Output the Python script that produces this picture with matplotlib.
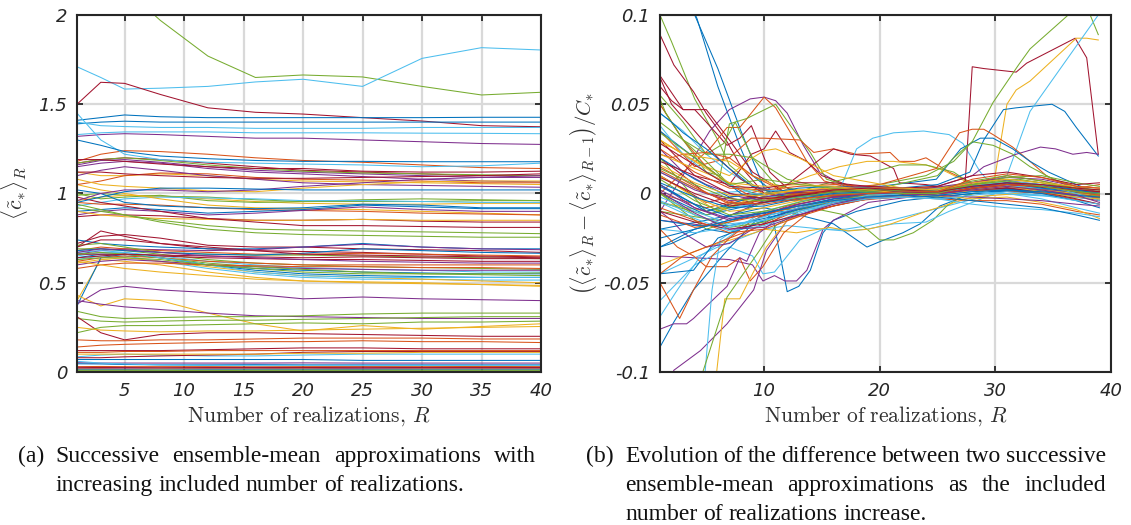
import matplotlib
matplotlib.use("Agg")
import matplotlib.pyplot as plt

plt.rcParams["mathtext.fontset"] = "cm"

# ---------------------------------------------------------------- data
# Panel (a): running ensemble mean <c~*>_R, sampled at these R values
R_KNOTS_A = [1, 3, 5, 8, 12, 16, 20, 25, 30, 35, 40]

upper_a = [
    [2.45, 2.28, 2.15, 1.97, 1.77, 1.65, 1.664, 1.653, 1.60, 1.552, 1.567],
    [1.71, 1.65, 1.585, 1.59, 1.60, 1.625, 1.64, 1.60, 1.757, 1.817, 1.804],
    [1.50, 1.623, 1.617, 1.555, 1.48, 1.455, 1.445, 1.425, 1.406, 1.38, 1.374],
    [1.41, 1.425, 1.44, 1.43, 1.425, 1.425, 1.425, 1.425, 1.425, 1.427, 1.427],
    [1.39, 1.40, 1.405, 1.40, 1.40, 1.40, 1.40, 1.40, 1.40, 1.40, 1.40],
    [1.40, 1.38, 1.375, 1.37, 1.37, 1.365, 1.365, 1.365, 1.37, 1.37, 1.37],
    [1.33, 1.34, 1.345, 1.345, 1.345, 1.34, 1.34, 1.34, 1.338, 1.337, 1.335],
    [1.32, 1.33, 1.335, 1.33, 1.32, 1.31, 1.31, 1.30, 1.29, 1.28, 1.275],
    [1.45, 1.30, 1.22, 1.19, 1.175, 1.17, 1.165, 1.16, 1.15, 1.155, 1.17],
    [1.30, 1.27, 1.235, 1.21, 1.195, 1.185, 1.18, 1.18, 1.178, 1.178, 1.178],
]
upper_a_colors = "gcrbbccpcb"

band_a_high = [
    [1.18, 1.22, 1.24, 1.235, 1.22, 1.20, 1.185, 1.175, 1.16, 1.145, 1.14],
    [1.17, 1.19, 1.20, 1.19, 1.17, 1.15, 1.13, 1.12, 1.11, 1.10, 1.10],
    [1.16, 1.185, 1.19, 1.175, 1.15, 1.13, 1.12, 1.11, 1.10, 1.09, 1.09],
    [1.17, 1.19, 1.20, 1.185, 1.16, 1.14, 1.125, 1.115, 1.11, 1.105, 1.10],
    [1.15, 1.17, 1.18, 1.17, 1.14, 1.12, 1.11, 1.095, 1.08, 1.07, 1.065],
    [1.19, 1.19, 1.18, 1.165, 1.15, 1.14, 1.14, 1.125, 1.12, 1.12, 1.125],
    [1.12, 1.10, 1.10, 1.11, 1.10, 1.08, 1.07, 1.065, 1.06, 1.055, 1.05],
    [1.05, 1.07, 1.10, 1.115, 1.11, 1.09, 1.08, 1.075, 1.07, 1.06, 1.06],
    [1.10, 1.13, 1.15, 1.13, 1.10, 1.08, 1.06, 1.05, 1.045, 1.04, 1.035],
    [1.08, 1.05, 1.04, 1.03, 1.015, 1.01, 1.03, 1.05, 1.065, 1.07, 1.07],
    [0.96, 1.00, 1.02, 1.02, 1.01, 1.02, 1.04, 1.06, 1.08, 1.09, 1.10],
    [0.95, 0.98, 1.01, 1.03, 1.03, 1.025, 1.02, 1.02, 1.02, 1.02, 1.02],
    [1.12, 1.12, 1.11, 1.10, 1.09, 1.085, 1.085, 1.09, 1.095, 1.10, 1.11],
]
band_a_high_colors = "orpgpryopypbr"

band_a_mid = [
    [0.99, 1.00, 0.99, 0.985, 0.98, 0.965, 0.955, 0.955, 0.955, 0.96, 0.96],
    [0.96, 0.98, 0.99, 0.985, 0.97, 0.955, 0.945, 0.94, 0.94, 0.945, 0.945],
    [1.00, 0.97, 0.98, 0.99, 0.96, 0.95, 0.955, 0.965, 0.97, 0.965, 0.96],
    [0.93, 0.95, 0.97, 0.98, 0.975, 0.97, 0.96, 0.96, 0.955, 0.95, 0.95],
    [1.05, 1.02, 1.00, 0.97, 0.935, 0.92, 0.915, 0.91, 0.90, 0.89, 0.88],
    [0.95, 0.94, 0.94, 0.935, 0.92, 0.91, 0.905, 0.90, 0.89, 0.885, 0.88],
    [0.90, 0.91, 0.92, 0.91, 0.89, 0.90, 0.91, 0.935, 0.925, 0.915, 0.915],
    [0.88, 0.90, 0.91, 0.90, 0.88, 0.89, 0.905, 0.925, 0.91, 0.90, 0.90],
    [0.87, 0.88, 0.88, 0.875, 0.86, 0.85, 0.85, 0.855, 0.845, 0.84, 0.84],
    [0.90, 0.88, 0.87, 0.86, 0.855, 0.85, 0.85, 0.855, 0.85, 0.85, 0.85],
    [0.92, 0.90, 0.88, 0.85, 0.82, 0.80, 0.795, 0.79, 0.785, 0.78, 0.775],
    [0.98, 0.95, 0.93, 0.90, 0.86, 0.84, 0.82, 0.82, 0.815, 0.81, 0.81],
    [0.94, 0.91, 0.88, 0.84, 0.80, 0.78, 0.77, 0.765, 0.76, 0.755, 0.755],
    [1.02, 1.00, 0.95, 0.93, 0.92, 0.915, 0.92, 0.94, 0.935, 0.92, 0.92],
]
band_a_mid_colors = "gygcyobprygrgb"

band_a_low = [
    [0.70, 0.79, 0.76, 0.72, 0.69, 0.68, 0.675, 0.67, 0.66, 0.65, 0.645],
    [0.72, 0.76, 0.77, 0.75, 0.71, 0.70, 0.70, 0.69, 0.685, 0.68, 0.67],
    [0.74, 0.72, 0.71, 0.70, 0.69, 0.69, 0.70, 0.72, 0.70, 0.69, 0.69],
    [0.66, 0.68, 0.69, 0.685, 0.68, 0.685, 0.70, 0.715, 0.70, 0.69, 0.685],
    [0.68, 0.70, 0.69, 0.68, 0.67, 0.66, 0.66, 0.665, 0.66, 0.655, 0.65],
    [0.71, 0.72, 0.70, 0.67, 0.66, 0.655, 0.655, 0.65, 0.645, 0.64, 0.635],
    [0.65, 0.67, 0.67, 0.65, 0.62, 0.60, 0.585, 0.575, 0.57, 0.56, 0.56],
    [0.64, 0.66, 0.66, 0.64, 0.60, 0.57, 0.55, 0.54, 0.535, 0.53, 0.53],
    [0.63, 0.65, 0.65, 0.62, 0.58, 0.55, 0.53, 0.52, 0.52, 0.515, 0.515],
    [0.61, 0.63, 0.62, 0.60, 0.56, 0.53, 0.51, 0.50, 0.495, 0.49, 0.485],
    [0.40, 0.63, 0.64, 0.62, 0.59, 0.56, 0.54, 0.53, 0.52, 0.51, 0.50],
    [0.37, 0.64, 0.66, 0.64, 0.60, 0.58, 0.57, 0.56, 0.555, 0.55, 0.55],
    [0.69, 0.69, 0.68, 0.66, 0.63, 0.61, 0.60, 0.59, 0.585, 0.58, 0.575],
    [0.66, 0.66, 0.66, 0.65, 0.64, 0.635, 0.63, 0.63, 0.625, 0.62, 0.62],
    [0.62, 0.64, 0.65, 0.64, 0.62, 0.61, 0.60, 0.60, 0.60, 0.60, 0.60],
    [0.60, 0.62, 0.63, 0.62, 0.60, 0.59, 0.58, 0.575, 0.57, 0.57, 0.57],
    [0.66, 0.67, 0.66, 0.64, 0.61, 0.59, 0.575, 0.56, 0.55, 0.545, 0.54],
    [0.67, 0.68, 0.67, 0.64, 0.60, 0.56, 0.54, 0.53, 0.53, 0.53, 0.53],
    [0.64, 0.65, 0.66, 0.655, 0.65, 0.645, 0.64, 0.645, 0.64, 0.635, 0.635],
    [0.68, 0.69, 0.68, 0.67, 0.66, 0.655, 0.665, 0.69, 0.68, 0.67, 0.665],
    [0.58, 0.60, 0.61, 0.61, 0.60, 0.595, 0.59, 0.59, 0.585, 0.585, 0.58],
    [0.63, 0.64, 0.64, 0.63, 0.60, 0.58, 0.56, 0.55, 0.55, 0.55, 0.555],
    [0.70, 0.74, 0.74, 0.72, 0.70, 0.68, 0.66, 0.655, 0.65, 0.645, 0.64],
    [0.62, 0.60, 0.58, 0.56, 0.54, 0.52, 0.51, 0.505, 0.50, 0.49, 0.48],
    [0.67, 0.69, 0.685, 0.67, 0.65, 0.64, 0.63, 0.62, 0.615, 0.61, 0.61],
]
band_a_low_colors = "rrbpogcbcyybgropgcrbogryp"

lower_a = [
    [0.38, 0.46, 0.48, 0.46, 0.445, 0.435, 0.41, 0.42, 0.41, 0.405, 0.40],
    [0.43, 0.37, 0.41, 0.40, 0.33, 0.27, 0.23, 0.26, 0.24, 0.255, 0.27],
    [0.40, 0.38, 0.365, 0.35, 0.33, 0.315, 0.31, 0.305, 0.30, 0.30, 0.30],
    [0.34, 0.31, 0.30, 0.305, 0.31, 0.31, 0.315, 0.325, 0.33, 0.33, 0.33],
    [0.30, 0.285, 0.28, 0.285, 0.29, 0.29, 0.295, 0.30, 0.305, 0.31, 0.31],
    [0.31, 0.22, 0.18, 0.21, 0.22, 0.22, 0.215, 0.21, 0.205, 0.20, 0.20],
    [0.22, 0.25, 0.26, 0.26, 0.265, 0.27, 0.275, 0.27, 0.28, 0.28, 0.285],
    [0.18, 0.175, 0.175, 0.18, 0.18, 0.185, 0.19, 0.19, 0.19, 0.185, 0.185],
    [0.14, 0.15, 0.155, 0.16, 0.165, 0.17, 0.17, 0.175, 0.17, 0.17, 0.165],
    [0.12, 0.12, 0.12, 0.12, 0.125, 0.13, 0.135, 0.135, 0.13, 0.13, 0.13],
    [0.25, 0.235, 0.23, 0.225, 0.23, 0.23, 0.235, 0.24, 0.245, 0.25, 0.255],
    [0.085, 0.095, 0.10, 0.095, 0.09, 0.09, 0.095, 0.10, 0.10, 0.10, 0.10],
    [0.08, 0.08, 0.085, 0.09, 0.095, 0.10, 0.11, 0.115, 0.115, 0.115, 0.115],
    [0.07, 0.07, 0.07, 0.07, 0.07, 0.07, 0.07, 0.065, 0.065, 0.065, 0.065],
    [0.10, 0.10, 0.10, 0.10, 0.10, 0.10, 0.105, 0.105, 0.11, 0.11, 0.11],
    [0.11, 0.11, 0.115, 0.115, 0.12, 0.12, 0.12, 0.12, 0.12, 0.12, 0.12],
]
lower_a_colors = "pypggrgoorycrbyo"

floor_a = [
    [0.052, 0.050, 0.050, 0.050, 0.050, 0.050, 0.051, 0.050, 0.050, 0.050, 0.050],
    [0.046, 0.045, 0.042, 0.040, 0.040, 0.041, 0.040, 0.040, 0.040, 0.040, 0.040],
    [0.060, 0.050, 0.045, 0.040, 0.036, 0.035, 0.035, 0.035, 0.036, 0.035, 0.035],
    [0.030, 0.031, 0.030, 0.030, 0.030, 0.029, 0.030, 0.030, 0.030, 0.031, 0.030],
    [0.026, 0.025, 0.025, 0.024, 0.025, 0.025, 0.025, 0.026, 0.025, 0.025, 0.025],
    [0.020, 0.020, 0.021, 0.020, 0.020, 0.020, 0.019, 0.020, 0.020, 0.020, 0.020],
    [0.016, 0.016, 0.015, 0.016, 0.016, 0.016, 0.016, 0.015, 0.016, 0.016, 0.016],
    [0.012, 0.012, 0.012, 0.011, 0.012, 0.012, 0.012, 0.012, 0.012, 0.012, 0.012],
    [0.009, 0.009, 0.009, 0.009, 0.008, 0.009, 0.009, 0.009, 0.009, 0.009, 0.009],
    [0.006, 0.006, 0.006, 0.006, 0.006, 0.006, 0.006, 0.006, 0.006, 0.006, 0.006],
    [0.004, 0.004, 0.004, 0.004, 0.004, 0.004, 0.004, 0.004, 0.004, 0.004, 0.004],
    [0.002, 0.002, 0.002, 0.002, 0.002, 0.002, 0.002, 0.002, 0.002, 0.002, 0.002],
    [0.001, 0.001, 0.001, 0.001, 0.001, 0.001, 0.001, 0.001, 0.001, 0.001, 0.001],
]
floor_a_colors = "pbcorpybgcrop"

# Panel (b): relative change between successive ensemble means
R_KNOTS_B = [1, 4, 7, 10, 13, 16, 19, 22, 25, 28, 31, 34, 37, 39]

band_b = [
    [0.020, 0.008, -0.002, 0.000, 0.003, 0.004, 0.003, 0.001, 0.000, 0.004, 0.006, 0.003, 0.001, 0.000],
    [0.015, 0.004, -0.006, -0.004, 0.000, 0.002, 0.002, 0.000, -0.001, 0.003, 0.005, 0.004, 0.002, 0.001],
    [0.010, -0.002, -0.010, -0.008, -0.004, 0.000, 0.001, 0.000, 0.000, 0.002, 0.004, 0.002, 0.000, -0.001],
    [0.005, -0.008, -0.015, -0.012, -0.006, -0.002, 0.000, 0.001, 0.000, 0.003, 0.006, 0.004, 0.001, 0.000],
    [0.000, -0.012, -0.019, -0.016, -0.009, -0.004, -0.001, 0.000, 0.001, 0.005, 0.008, 0.006, 0.002, -0.002],
    [-0.005, -0.014, -0.021, -0.018, -0.011, -0.006, -0.002, 0.000, 0.000, 0.004, 0.007, 0.005, 0.000, -0.004],
    [-0.010, -0.016, -0.020, -0.017, -0.012, -0.007, -0.003, -0.001, 0.000, 0.002, 0.003, 0.001, -0.003, -0.006],
    [-0.015, -0.018, -0.018, -0.014, -0.009, -0.005, -0.002, -0.001, -0.002, 0.000, 0.002, 0.000, -0.004, -0.008],
    [0.025, 0.012, 0.003, 0.002, 0.004, 0.005, 0.004, 0.002, 0.001, 0.006, 0.010, 0.007, 0.003, 0.005],
    [0.030, 0.018, 0.006, 0.000, 0.002, 0.003, 0.002, 0.000, -0.002, 0.002, 0.004, 0.001, -0.002, -0.003],
    [0.012, 0.002, -0.004, -0.002, 0.001, 0.003, 0.004, 0.003, 0.002, 0.006, 0.009, 0.008, 0.004, 0.003],
    [0.008, -0.004, -0.012, -0.010, -0.005, -0.001, 0.001, 0.002, 0.002, 0.007, 0.010, 0.007, 0.003, 0.002],
    [-0.002, -0.010, -0.017, -0.015, -0.010, -0.005, -0.001, 0.000, -0.001, 0.001, 0.000, -0.003, -0.008, -0.011],
    [0.018, 0.010, 0.000, -0.003, -0.001, 0.001, 0.002, 0.001, 0.000, 0.003, 0.005, 0.004, 0.002, 0.001],
    [0.004, -0.006, -0.013, -0.011, -0.007, -0.003, 0.000, 0.001, 0.001, 0.004, 0.006, 0.005, 0.002, 0.000],
    [-0.008, -0.015, -0.022, -0.020, -0.013, -0.007, -0.003, -0.002, -0.003, -0.004, -0.004, -0.006, -0.010, -0.012],
    [0.022, 0.014, 0.006, 0.004, 0.005, 0.004, 0.002, 0.000, -0.001, -0.003, -0.002, -0.005, -0.009, -0.014],
    [0.002, -0.008, -0.014, -0.011, -0.006, -0.002, 0.000, 0.000, -0.001, -0.002, -0.003, -0.004, -0.006, -0.007],
    [0.014, 0.005, -0.003, -0.004, -0.002, 0.001, 0.002, 0.002, 0.001, 0.005, 0.009, 0.010, 0.006, 0.004],
    [-0.004, -0.012, -0.018, -0.015, -0.010, -0.006, -0.003, -0.002, -0.003, -0.006, -0.008, -0.009, -0.011, -0.013],
    [0.028, 0.016, 0.004, 0.003, 0.006, 0.006, 0.004, 0.003, 0.004, 0.010, 0.012, 0.009, 0.005, 0.006],
    [0.006, -0.002, -0.008, -0.007, -0.003, 0.000, 0.001, 0.000, -0.001, 0.001, 0.002, 0.001, -0.001, -0.002],
    [-0.012, -0.019, -0.016, -0.012, -0.007, -0.004, -0.002, -0.001, 0.000, 0.003, 0.005, 0.004, 0.001, -0.001],
    [0.016, 0.006, -0.001, -0.001, 0.002, 0.003, 0.003, 0.003, 0.002, 0.006, 0.008, 0.006, 0.004, 0.003],
    [0.001, -0.011, -0.020, -0.019, -0.012, -0.006, -0.002, -0.001, 0.000, 0.002, 0.004, 0.002, -0.001, -0.005],
    [0.034, 0.020, 0.005, 0.008, 0.005, 0.003, 0.001, 0.000, 0.000, 0.005, 0.007, 0.004, 0.001, 0.000],
    [-0.020, -0.022, -0.019, -0.013, -0.008, -0.004, -0.002, -0.002, -0.003, -0.001, 0.001, -0.001, -0.004, -0.006],
    [0.009, 0.000, -0.007, -0.005, -0.001, 0.002, 0.003, 0.002, 0.001, 0.004, 0.006, 0.005, 0.003, 0.002],
    [-0.025, -0.020, -0.015, -0.011, -0.007, -0.004, -0.002, -0.001, -0.002, -0.004, -0.006, -0.008, -0.012, -0.015],
    [0.013, 0.003, -0.005, -0.006, -0.003, -0.001, 0.000, 0.001, 0.001, 0.008, 0.011, 0.009, 0.004, 0.003],
]
band_b_colors = "boypgcr"

# Individual traces of panel (b) that leave the central band
spikes_b_R = [
    [1, 3, 4, 6, 8, 10, 12, 16, 20, 25, 30, 35, 39],
    [1, 3, 4.2, 6, 8, 9, 11, 14, 20, 30, 39],
    [1, 2, 4, 6, 7, 9, 12, 16, 22, 30, 39],
    [1, 2.2, 3.9, 5, 6.8, 8, 10, 13, 18, 25, 32, 39],
    [1, 3, 4, 5, 6.8, 7.9, 8.9, 10.5, 12, 15, 20, 28, 35, 39],
    [1, 2.5, 3.9, 5.3, 7, 8.8, 10, 11, 12, 13.4, 14.8, 17, 22, 30, 39],
    [1, 3, 5.3, 6.8, 7.9, 10, 11, 12.2, 13.7, 15.2, 18, 25, 32, 39],
    [1, 3, 5, 6.2, 7, 8.5, 11, 12.5, 14, 15.4, 18, 25, 32, 39],
    [1, 4, 7, 8.9, 10, 11, 12.2, 13.7, 15, 18, 25, 32, 39],
    [1, 4, 7, 8.9, 10, 13.1, 14.3, 16, 18, 20.9, 21.7, 23, 24, 26, 28, 32, 39],
    [1, 5, 9, 12, 14, 16, 17.5, 19.2, 21.2, 21.7, 24, 27, 32, 39],
    [1, 5, 10, 14, 16.6, 18, 19.4, 21.2, 23.8, 26, 27.2, 28.7, 30, 34, 39],
    [1, 6, 10, 14, 16.5, 18.9, 21.2, 24, 25.5, 28, 32, 39],
    [1, 6, 10, 15, 19.4, 21.7, 24, 26.4, 28, 32, 39],
    [1, 5, 10, 15, 20, 24, 26.4, 27.4, 28, 29, 31.8, 32.7, 36.9, 37.9, 38.9],
    [1, 5, 10, 15, 20, 24, 26.4, 28, 29.8, 32, 33, 36.3, 37, 38.2, 38.9],
    [1, 5, 10, 15, 20, 25, 28, 29.8, 31, 31.8, 33, 37, 37.9, 38.9],
    [1, 5, 10, 15, 20, 25, 27.8, 29, 30.7, 31.8, 34.9, 36, 37, 38.9],
    [1, 5, 10, 15, 20, 25, 29, 31, 33, 38.9],
    [1, 5, 10, 15, 20, 25, 28, 29, 31.8, 33.9, 35.2, 36.7, 37.9, 38.9],
    [1, 5, 10, 15, 20, 24.9, 26.9, 28, 29, 29.8, 31.5, 33, 34.4, 37, 39],
    [1, 5, 10, 15, 20, 24.9, 27, 28.7, 29.8, 31.5, 33, 34.6, 37, 39],
    [1, 5, 10, 15, 20, 25, 26.4, 28, 29.8, 31.5, 33, 35, 39],
    [1, 4, 7, 9.9, 10.8, 12, 13, 14, 15.1, 16, 18, 22, 28, 33, 39],
    [1, 4, 7, 9, 9.9, 10.9, 11.8, 12.8, 13.7, 15.1, 16, 19, 25, 32, 39],
    [1, 4, 7, 9, 9.9, 10.9, 12, 13.1, 15.1, 17, 19, 21, 24, 30, 39],
    [1, 5, 10, 13, 16, 18.9, 20, 22, 23.5, 25.2, 28, 33, 39],
    [1, 5, 10, 14, 17, 18.9, 20, 21.2, 22.9, 24.6, 25.8, 27, 30, 35, 39],
    [1, 6, 10, 12, 15.1, 17, 18.9, 21.2, 24, 26, 30, 39],
    [1, 5, 9.2, 10, 12.8, 15.7, 17.3, 19, 21, 24, 28, 34, 39],
    [1, 2.5, 3.9, 5, 6.8, 7.9, 8.8, 9.9, 11.7, 14, 18, 25, 32, 39],
    [1, 2.2, 3.9, 6.8, 9.6, 12, 16, 22, 30, 39],
    [1, 2.2, 3.3, 3.9, 6.8, 7.9, 8.5, 9.6, 12, 16, 22, 30, 39],
    [1, 2.2, 4.5, 6.8, 9.1, 10.2, 12, 16, 22, 30, 39],
    [1, 3, 4.9, 5.5, 6.2, 7.5, 10, 14, 20, 30, 39],
    [1, 3, 5.9, 6.6, 7.9, 9, 10.2, 12, 16, 22, 30, 39],
    [1, 3, 4.7, 6.8, 8.2, 9.6, 11, 14, 20, 30, 39],
    [1, 2.4, 4.5, 6.8, 9, 12, 16, 22, 30, 39],
    [1, 2.7, 3.9, 5.5, 7, 9, 12, 16, 22, 30, 39],
    [1, 3.9, 6, 8, 10, 13, 16, 22, 30, 39],
    [1, 3, 5, 7, 9, 12, 16, 22, 30, 39],
    [1, 2, 4, 6, 8, 10, 13, 18, 25, 32, 39],
    [1, 3, 5, 6.5, 7.5, 9, 11, 14, 20, 30, 39],
    [1, 3, 5, 7, 9, 10, 11, 13, 16, 22, 30, 39],
    [1, 2, 4, 6, 8, 10, 13, 18, 25, 32, 39],
    [1, 3, 5, 7, 9, 12, 16, 22, 30, 39],
    [1, 1.5, 3, 5, 7, 10, 14, 20, 30, 39],
    [1, 3, 5, 8, 10, 13, 17, 22, 30, 39],
    [1, 2, 3, 5, 7, 9, 12, 16, 22, 30, 39],
    [1, 2, 3, 5, 7, 9, 12, 16, 22, 30, 39],
    [1, 2, 3, 5, 7, 9, 12, 16, 22, 30, 39],
    [1, 2, 3, 5, 7, 9, 12, 16, 22, 30, 39],
    [1, 2, 3, 5, 7, 9, 12, 16, 22, 30, 39],
    [1, 2, 3, 5, 7, 9, 12, 16, 22, 30, 39],
    [1, 2, 3, 5, 7, 9, 12, 16, 22, 30, 39],
    [1, 2, 3, 5, 7, 9, 12, 16, 22, 30, 39],
    [1, 2, 3, 5, 7, 9, 12, 16, 22, 30, 39],
]
spikes_b_val = [
    [0.16, 0.12, 0.10, 0.07, 0.035, 0.003, -0.002, 0.0, 0.0, 0.001, 0.003, 0.001, 0.0],
    [0.15, 0.115, 0.098, 0.06, 0.025, 0.01, 0.0, -0.003, 0.0, 0.002, 0.001],
    [0.10, 0.085, 0.053, 0.03, 0.016, 0.005, -0.004, -0.002, 0.0, 0.003, 0.0],
    [0.089, 0.072, 0.057, 0.045, 0.029, 0.015, 0.0, -0.004, -0.001, 0.0, 0.004, -0.002],
    [0.066, 0.047, 0.047, 0.04, 0.027, 0.031, 0.038, 0.012, 0.003, -0.002, 0.0, 0.002, 0.0, -0.004],
    [-0.01, 0.005, 0.02, 0.035, 0.047, 0.053, 0.054, 0.052, 0.045, 0.027, 0.012, 0.004, 0.002, 0.006, 0.0],
    [0.0, 0.012, 0.025, 0.037, 0.037, 0.054, 0.048, 0.035, 0.018, 0.007, 0.002, 0.001, 0.006, -0.003],
    [0.05, 0.03, 0.012, 0.01, 0.039, 0.042, 0.050, 0.036, 0.023, 0.008, 0.003, 0.002, 0.008, 0.001],
    [0.03, 0.01, 0.005, 0.022, 0.025, 0.035, 0.023, 0.018, 0.01, 0.003, 0.0, 0.005, -0.001],
    [0.035, 0.015, 0.02, 0.031, 0.031, 0.030, 0.023, 0.025, 0.022, 0.023, 0.018, 0.018, 0.020, 0.012, 0.006, 0.004, 0.0],
    [0.02, 0.0, -0.005, 0.005, 0.015, 0.025, 0.022, 0.021, 0.014, 0.006, 0.005, 0.002, 0.003, -0.002],
    [0.005, -0.01, -0.005, 0.0, 0.003, 0.025, 0.031, 0.034, 0.035, 0.033, 0.028, 0.012, 0.003, 0.0, -0.002],
    [0.01, -0.01, 0.0, 0.010, 0.015, 0.018, 0.018, 0.016, 0.013, 0.005, 0.002, -0.001],
    [-0.01, -0.015, -0.005, 0.005, 0.012, 0.016, 0.016, 0.012, 0.005, 0.003, 0.0],
    [0.01, -0.005, 0.002, 0.0, 0.001, 0.002, 0.003, 0.007, 0.071, 0.07, 0.068, 0.073, 0.087, 0.076, 0.022],
    [0.02, -0.01, -0.003, 0.0, 0.005, 0.010, 0.018, 0.029, 0.051, 0.072, 0.081, 0.1, 0.108, 0.1, 0.089],
    [-0.005, -0.01, 0.0, 0.002, 0.001, 0.0, 0.002, 0.003, 0.05, 0.058, 0.063, 0.087, 0.087, 0.086],
    [0.0, -0.012, -0.005, 0.0, 0.002, 0.005, 0.012, 0.03, 0.047, 0.048, 0.05, 0.046, 0.037, 0.021],
    [0.012, 0.0, 0.002, 0.001, 0.0, 0.002, 0.005, 0.01, 0.046, 0.1],
    [-0.015, -0.018, -0.004, 0.0, 0.001, 0.004, 0.010, 0.015, 0.022, 0.026, 0.025, 0.022, 0.023, 0.022],
    [0.0, -0.008, 0.0, 0.002, 0.005, 0.014, 0.034, 0.036, 0.036, 0.033, 0.026, 0.018, 0.010, 0.002, -0.004],
    [0.005, -0.01, 0.0, 0.001, 0.004, 0.008, 0.025, 0.031, 0.031, 0.025, 0.018, 0.012, 0.005, 0.0],
    [-0.005, -0.012, -0.002, 0.001, 0.003, 0.01, 0.020, 0.029, 0.027, 0.022, 0.015, 0.008, 0.0],
    [-0.03, -0.02, -0.015, -0.01, -0.015, -0.055, -0.052, -0.043, -0.022, -0.015, -0.01, -0.004, 0.0, 0.002, -0.002],
    [-0.035, -0.036, -0.037, -0.04, -0.049, -0.046, -0.049, -0.049, -0.043, -0.02, -0.015, -0.005, 0.0, 0.004, -0.003],
    [-0.06, -0.04, -0.03, -0.035, -0.045, -0.044, -0.035, -0.026, -0.02, -0.02, -0.018, -0.015, -0.01, 0.0, -0.002],
    [-0.02, -0.015, -0.008, -0.012, -0.017, -0.03, -0.027, -0.022, -0.017, -0.007, 0.0, 0.002, -0.001],
    [0.0, -0.02, -0.01, -0.008, -0.012, -0.02, -0.026, -0.026, -0.022, -0.015, -0.007, -0.002, 0.003, 0.0, -0.001],
    [-0.045, -0.03, -0.02, -0.018, -0.02, -0.021, -0.02, -0.017, -0.016, -0.01, 0.0, -0.003],
    [-0.04, -0.03, -0.022, -0.02, -0.022, -0.019, -0.021, -0.02, -0.017, -0.01, -0.002, 0.001, -0.002],
    [-0.02, -0.03, -0.035, -0.041, -0.041, -0.036, -0.049, -0.041, -0.022, -0.01, -0.004, 0.0, 0.003, -0.006],
    [-0.086, -0.072, -0.054, -0.032, -0.013, -0.01, -0.004, 0.0, 0.002, -0.001],
    [-0.076, -0.073, -0.073, -0.07, -0.052, -0.036, -0.038, -0.022, -0.01, -0.004, 0.0, 0.002, -0.002],
    [-0.12, -0.099, -0.088, -0.073, -0.054, -0.032, -0.015, -0.005, 0.0, 0.003, 0.001],
    [-0.16, -0.13, -0.1, -0.054, -0.026, -0.02, -0.01, -0.003, 0.0, 0.002, -0.001],
    [-0.2, -0.15, -0.1, -0.059, -0.059, -0.045, -0.03, -0.015, -0.005, 0.0, 0.004, 0.0],
    [-0.18, -0.14, -0.1, -0.058, -0.045, -0.032, -0.018, -0.006, 0.0, 0.003, 0.0],
    [-0.069, -0.055, -0.035, -0.025, -0.015, -0.008, -0.003, 0.0, 0.002, 0.0],
    [-0.05, -0.07, -0.054, -0.035, -0.025, -0.015, -0.007, -0.002, 0.0, 0.003, -0.002],
    [-0.045, -0.043, -0.025, -0.02, -0.015, -0.008, -0.003, 0.0, 0.002, 0.0],
    [0.045, 0.035, 0.022, 0.012, 0.004, 0.0, 0.0, 0.001, 0.004, 0.0],
    [0.035, 0.03, 0.02, 0.01, 0.0, -0.005, -0.003, 0.0, 0.001, 0.005, 0.002],
    [0.055, 0.04, 0.022, 0.028, 0.04, 0.02, 0.005, 0.0, 0.002, 0.004, 0.0],
    [0.03, 0.022, 0.015, 0.01, 0.02, 0.024, 0.025, 0.02, 0.01, 0.003, 0.005, -0.001],
    [0.065, 0.05, 0.035, 0.02, 0.008, 0.0, -0.003, 0.0, 0.002, 0.005, 0.0],
    [0.05, 0.03, 0.015, 0.005, -0.002, -0.003, 0.0, 0.001, 0.006, -0.002],
    [0.053, 0.045, 0.03, 0.018, 0.005, -0.002, 0.0, 0.001, 0.004, 0.001],
    [0.025, 0.012, 0.005, -0.002, -0.004, -0.002, 0.0, 0.001, 0.008, 0.001],
    [0.06, 0.052, 0.047, 0.047, 0.03, 0.012, 0.0, 0.001, 0.0, 0.004, -0.001],
    [0.04, 0.035, 0.03, 0.022, 0.022, 0.02, 0.008, 0.002, 0.001, 0.005, 0.0],
    [0.028, 0.026, 0.022, 0.02, 0.018, 0.01, 0.002, 0.0, 0.001, 0.006, 0.002],
    [0.038, 0.03, 0.022, 0.012, 0.005, 0.0, -0.003, 0.0, 0.001, 0.005, 0.0],
    [0.022, 0.02, 0.022, 0.023, 0.02, 0.01, 0.0, -0.002, 0.0, 0.004, -0.002],
    [0.045, 0.04, 0.034, 0.025, 0.014, 0.004, -0.002, 0.0, 0.001, 0.003, 0.0],
    [-0.03, -0.028, -0.025, -0.02, -0.022, -0.018, -0.01, -0.004, 0.0, 0.003, -0.001],
    [-0.01, -0.015, -0.022, -0.03, -0.028, -0.02, -0.01, -0.003, 0.0, 0.004, 0.0],
    [-0.045, -0.04, -0.035, -0.03, -0.025, -0.02, -0.012, -0.004, 0.0, 0.002, -0.002],
]
spikes_b_colors = ("bbgrrpogro" "rcygrgybcp" "obgbpcbgcy" "obppcygcob"
                   "cbgyrogp" "rgycobbpo")

XTICKS_A = [5, 10, 15, 20, 25, 30, 35, 40]
YTICKS_A = [0, 0.5, 1, 1.5, 2]
YTICKLABELS_A = ["0", "0.5", "1", "1.5", "2"]
XTICKS_B = [10, 20, 30, 40]
YTICKS_B = [-0.1, -0.05, 0, 0.05, 0.1]
YTICKLABELS_B = ["-0.1", "-0.05", "0", "0.05", "0.1"]

# ---------------------------------------------------------------- style
PALETTE = {
    "b": (0.000, 0.447, 0.741),
    "o": (0.850, 0.325, 0.098),
    "y": (0.929, 0.694, 0.125),
    "p": (0.494, 0.184, 0.556),
    "g": (0.466, 0.674, 0.188),
    "c": (0.301, 0.745, 0.933),
    "r": (0.635, 0.078, 0.184),
}
LW = 0.75
INK = "#262626"

W, H = 1131, 525
fig = plt.figure(figsize=(W / 100, H / 100), dpi=100)
fig.patch.set_facecolor("white")

ax_a = fig.add_axes([77 / W, (H - 372) / H, 464 / W, 357 / H])
ax_b = fig.add_axes([660 / W, (H - 372) / H, 451 / W, 357 / H])


def style_axes(ax, xticks, yticks, yticklabels, ylim):
    ax.set_xlim(1, 40)
    ax.set_ylim(*ylim)
    ax.set_xticks(xticks)
    ax.set_yticks(yticks)
    ax.set_yticklabels(yticklabels)
    ax.set_axisbelow(True)
    ax.grid(True, color="#d9d9d9", lw=1.6)
    for s in ax.spines.values():
        s.set_color(INK)
        s.set_linewidth(1.5)
        s.set_zorder(5)
    ax.tick_params(direction="in", top=True, right=True, length=4,
                   width=1.3, color=INK, labelcolor=INK, labelsize=13, pad=7)
    for lab in ax.get_xticklabels() + ax.get_yticklabels():
        lab.set_fontstyle("italic")
        lab.set_fontfamily("DejaVu Sans")


def draw_group(ax, xs, rows, codes):
    for i, row in enumerate(rows):
        ax.plot(xs, row, color=PALETTE[codes[i % len(codes)]], lw=LW,
                solid_joinstyle="round")


# panel (a)
draw_group(ax_a, R_KNOTS_A, band_a_low, band_a_low_colors)
draw_group(ax_a, R_KNOTS_A, band_a_mid, band_a_mid_colors)
draw_group(ax_a, R_KNOTS_A, band_a_high, band_a_high_colors)
draw_group(ax_a, R_KNOTS_A, lower_a, lower_a_colors)
draw_group(ax_a, R_KNOTS_A, floor_a, floor_a_colors)
draw_group(ax_a, R_KNOTS_A, upper_a, upper_a_colors)
style_axes(ax_a, XTICKS_A, YTICKS_A, YTICKLABELS_A, (0, 2))

# panel (b)
for i, (rs, vals) in enumerate(zip(spikes_b_R, spikes_b_val)):
    ax_b.plot(rs, vals, color=PALETTE[spikes_b_colors[i % len(spikes_b_colors)]],
              lw=LW)
draw_group(ax_b, R_KNOTS_B, band_b, band_b_colors)
style_axes(ax_b, XTICKS_B, YTICKS_B, YTICKLABELS_B, (-0.1, 0.1))

label_kw = dict(fontsize=15.5, color="#303030")
xlabel_text = r"$\mathrm{Number\ of\ realizations,}\,R$"
ax_a.set_xlabel(xlabel_text, labelpad=3, **label_kw)
ax_b.set_xlabel(xlabel_text, labelpad=3, **label_kw)
ax_a.set_ylabel(r"$\langle\tilde{c}_{*}\rangle_{R}$", labelpad=6, **label_kw)
ax_b.set_ylabel(r"$\left(\langle\tilde{c}_{*}\rangle_{R}-\langle\tilde{c}_{*}\rangle_{R-1}\right)/C_{*}$",
                labelpad=3, fontsize=15, color="#303030")

# ---------------------------------------------------------------- captions
CAP_FONT = dict(family="Liberation Serif", fontsize=17, color="#111111")
renderer = fig.canvas.get_renderer()


def caption_line(text, x_left, x_right, baseline, justify=True):
    words = text.split()
    items = [fig.text(0, 1 - baseline / H, w, va="baseline", ha="left", **CAP_FONT)
             for w in words]
    widths = [t.get_window_extent(renderer).width for t in items]
    if justify and len(words) > 1:
        gap = (x_right - x_left - sum(widths)) / (len(words) - 1)
    else:
        spaced = fig.text(0, 0, "a a", **CAP_FONT)
        joined = fig.text(0, 0, "aa", **CAP_FONT)
        gap = (spaced.get_window_extent(renderer).width
               - joined.get_window_extent(renderer).width)
        spaced.remove()
        joined.remove()
    x = x_left
    for t, w in zip(items, widths):
        t.set_x(x / W)
        x += w + gap


def caption_tag(tag, x_right, baseline):
    fig.text(x_right / W, 1 - baseline / H, tag, va="baseline", ha="right", **CAP_FONT)


caption_tag("(a)", 44, 462)
caption_line("Successive ensemble-mean approximations with", 55, 536, 462)
caption_line("increasing included number of realizations.", 55, 536, 491, justify=False)

caption_tag("(b)", 614, 462)
caption_line("Evolution of the difference between two successive", 625, 1106, 462)
caption_line("ensemble-mean approximations as the included", 625, 1106, 491)
caption_line("number of realizations increase.", 625, 1106, 520, justify=False)

fig.savefig("out.png", dpi=100, facecolor="white")
